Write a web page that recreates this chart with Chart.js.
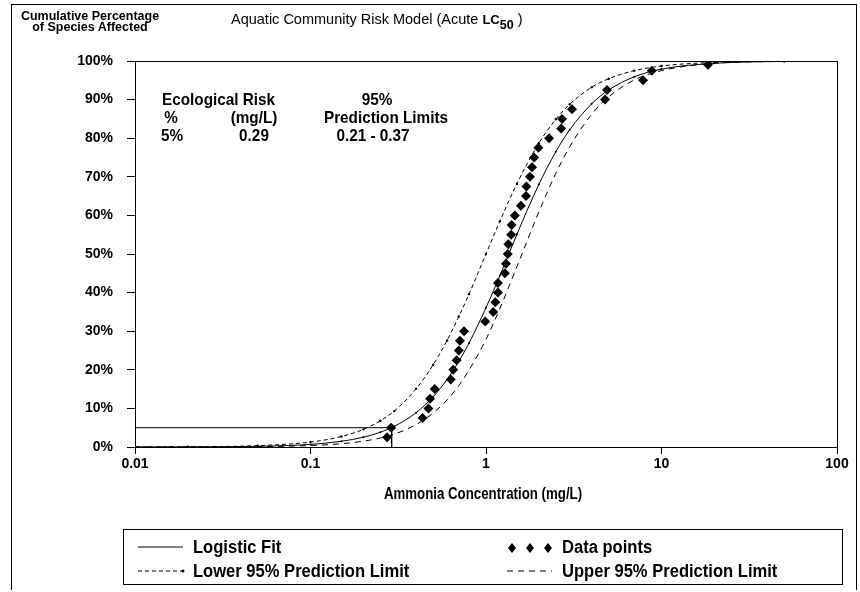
<!DOCTYPE html>
<html>
<head>
<meta charset="utf-8">
<script src="https://cdn.jsdelivr.net/npm/chart.js@4.4.1/dist/chart.umd.min.js"></script>
<style>
html,body{margin:0;padding:0;background:#fff;}
#wrap{position:relative;width:860px;height:592px;overflow:hidden;background:#fff;color:#000;
  font-family:'Liberation Sans',Arial,sans-serif;}
#c{position:absolute;left:0;top:0;}
.frame{position:absolute;left:11px;top:4px;width:846px;height:586px;border:1px solid #000;border-bottom:none;box-sizing:border-box;}
.t{position:absolute;white-space:nowrap;line-height:1;}
.n{transform-origin:0 50%;transform:scaleX(0.9);}
.cx{transform-origin:50% 50%;transform:translateX(-50%) scaleX(0.9);}
#title{left:231px;top:12px;font-size:14.5px;}
#title .lc{font-weight:bold;font-size:13px;}
#title sub{font-weight:bold;font-size:12.5px;vertical-align:-5px;line-height:0;}
#ytitle{left:90px;top:11px;font-weight:bold;font-size:12.5px;text-align:center;line-height:11px;transform:translateX(-50%);}
.ann{font-weight:bold;font-size:17px;}
#xtitle{left:483px;top:485px;font-weight:bold;font-size:17px;transform:translateX(-50%) scaleX(0.78);}
#legend{position:absolute;left:123px;top:529px;width:720px;height:56px;border:1px solid #000;box-sizing:border-box;}
.li{position:absolute;white-space:nowrap;line-height:1;}
.li svg{position:absolute;left:-56px;top:4px;}
.li span{display:inline-block;font-weight:bold;font-size:18px;transform-origin:0 50%;transform:scaleX(0.92);}
</style>
</head>
<body>
<div id="wrap">
  <div class="frame"></div>
  <canvas id="c" width="860" height="592"></canvas>
  <div id="title" class="t">Aquatic Community Risk Model (Acute <span class="lc">LC<sub>50</sub></span> )</div>
  <div id="ytitle" class="t">Cumulative Percentage<br>of Species Affected</div>

  <div class="t ann n" style="left:162px;top:91px;">Ecological Risk</div>
  <div class="t ann cx" style="left:377px;top:91px;">95%</div>
  <div class="t ann cx" style="left:171px;top:109px;">%</div>
  <div class="t ann cx" style="left:254px;top:109px;">(mg/L)</div>
  <div class="t ann cx" style="left:386px;top:109px;">Prediction Limits</div>
  <div class="t ann cx" style="left:172px;top:127px;">5%</div>
  <div class="t ann cx" style="left:254px;top:127px;">0.29</div>
  <div class="t ann cx" style="left:373px;top:127px;">0.21 - 0.37</div>

  <div id="xtitle" class="t">Ammonia Concentration (mg/L)</div>

  <div id="legend">
    <div class="li" style="left:69px;top:8px;">
      <svg width="48" height="10"><line x1="1" y1="5" x2="46" y2="5" stroke="#000" stroke-width="1"/></svg><span>Logistic Fit</span></div>
    <div class="li" style="left:438px;top:8px;">
      <svg width="48" height="12"><g fill="#000">
        <polygon points="6,1 10,6 6,11 2,6"/><polygon points="24,1 28,6 24,11 20,6"/><polygon points="42,1 46,6 42,11 38,6"/></g></svg><span>Data points</span></div>
    <div class="li" style="left:69px;top:32px;">
      <svg width="48" height="10"><line x1="1" y1="5" x2="46" y2="5" stroke="#000" stroke-width="1" stroke-dasharray="4,3"/><circle cx="46" cy="5" r="1.5" fill="#000"/></svg><span>Lower 95% Prediction Limit</span></div>
    <div class="li" style="left:438px;top:32px;">
      <svg width="48" height="10"><line x1="1" y1="5" x2="46" y2="5" stroke="#000" stroke-width="1" stroke-dasharray="6,5"/></svg><span>Upper 95% Prediction Limit</span></div>
  </div>
</div>
<script>
// ---- Data ----
const xTicks = [0.01, 0.1, 1, 10, 100];
const xTickLabels = ['0.01', '0.1', '1', '10', '100'];
const yTicks = [0, 10, 20, 30, 40, 50, 60, 70, 80, 90, 100];

// concentration grid at which the curves were read (mg/L)
const curveX = [0.01,0.02,0.05,0.1,0.15,0.2,0.25,0.3,0.4,0.5,0.6,0.7,0.8,1,1.2,1.5,2,2.5,3,4,5,7,10,20,50,100];
// logistic fit (% of species)
const fitY   = [0.01,0.03,0.18,0.68,1.48,2.53,3.82,5.33,8.9,13.0,17.5,22.2,26.9,36.1,44.4,55.1,68.0,76.5,82.2,88.9,92.5,95.9,97.9,99.4,99.9,100];
// lower 95% prediction limit (left curve)
const lowerY = [0.02,0.06,0.35,1.28,2.71,4.57,6.8,9.3,15.1,21.3,27.6,33.8,39.6,50,58.5,68.2,78.7,84.9,88.8,93.2,95.4,97.5,98.7,99.65,99.94,99.98];
// upper 95% prediction limit (right curve)
const upperY = [0.004,0.015,0.095,0.38,0.85,1.51,2.34,3.34,5.8,8.8,12.2,15.9,19.9,27.9,35.9,46.7,60.9,70.9,77.8,86.2,90.7,95.1,97.5,99.4,99.9,100];

// data points: concentration (mg/L) and cumulative %
const dataConc = [0.273,0.288,0.435,0.47,0.48,0.51,0.63,0.65,0.68,0.70,0.71,0.75,0.99,1.10,1.13,1.17,1.17,1.28,1.30,1.33,
                  1.34,1.39,1.40,1.46,1.58,1.69,1.70,1.78,1.83,1.88,1.99,2.29,2.68,2.71,3.09,4.77,4.89,7.85,8.8,18.4];
const dataPct  = [2.5,5,7.5,10,12.5,15,17.5,20,22.5,25,27.5,30,32.5,35,37.5,40,42.5,45,47.5,50,
                  52.5,55,57.5,60,62.5,65,67.5,70,72.5,75,77.5,80,82.5,85,87.5,90,92.5,95,97.5,99];

// ecological risk marker: 5% at 0.29 mg/L
const riskX = [0.01, 0.29, 0.29];
const riskY = [5, 5, 0];

const pts = (xs, ys) => xs.map((x, i) => ({x: x, y: ys[i]}));

const framePlugin = {
  id: 'frame',
  afterDatasetsDraw(chart) {
    const a = chart.chartArea, c = chart.ctx;
    c.save();
    c.strokeStyle = '#000'; c.lineWidth = 1;
    c.strokeRect(Math.round(a.left) + 0.5, Math.round(a.top) + 0.5, Math.round(a.right - a.left), Math.round(a.bottom - a.top));
    c.restore();
  }
};

const fontTick = {family: "'Liberation Sans',Arial,sans-serif", size: 14, weight: 'bold'};

new Chart(document.getElementById('c'), {
  type: 'scatter',
  data: {
    datasets: [
      {label: 'Risk', data: pts(riskX, riskY), showLine: true, borderColor: '#000', borderWidth: 1, pointRadius: 0, tension: 0},
      {label: 'Lower 95% Prediction Limit', data: pts(curveX, lowerY), showLine: true, borderColor: '#000', borderWidth: 1,
       borderDash: [4, 3], pointRadius: 1.2, pointBackgroundColor: '#000', pointBorderWidth: 0, cubicInterpolationMode: 'monotone'},
      {label: 'Upper 95% Prediction Limit', data: pts(curveX, upperY), showLine: true, borderColor: '#000', borderWidth: 1,
       borderDash: [6, 5], pointRadius: 0, cubicInterpolationMode: 'monotone'},
      {label: 'Logistic Fit', data: pts(curveX, fitY), showLine: true, borderColor: '#000', borderWidth: 1,
       pointRadius: 1, pointBackgroundColor: '#000', pointBorderWidth: 0, cubicInterpolationMode: 'monotone'},
      {label: 'Data points', data: pts(dataConc, dataPct), showLine: false, pointStyle: 'rectRot', pointRadius: 5,
       backgroundColor: '#000', borderColor: '#000', borderWidth: 0}
    ]
  },
  options: {
    responsive: false,
    animation: false,
    layout: {padding: {top: 61, right: 23, left: 0, bottom: 0}},
    plugins: {legend: {display: false}, tooltip: {enabled: false}},
    scales: {
      x: {
        type: 'logarithmic', min: 0.01, max: 100,
        afterBuildTicks: s => { s.ticks = xTicks.map(v => ({value: v})); },
        afterFit: s => { s.height = 145; },
        ticks: {callback: (v, i) => xTickLabels[i], color: '#000', font: fontTick, padding: 2, maxRotation: 0, autoSkip: false},
        grid: {drawOnChartArea: false, color: '#000', tickLength: 7},
        border: {color: '#000'}
      },
      y: {
        min: 0, max: 100,
        afterBuildTicks: s => { s.ticks = yTicks.map(v => ({value: v})); },
        afterFit: s => { s.width = 135; },
        ticks: {callback: v => v + '%', color: '#000', font: fontTick, padding: 14},
        grid: {drawOnChartArea: false, color: '#000', tickLength: 8},
        border: {color: '#000'}
      }
    }
  },
  plugins: [framePlugin]
});
</script>
</body>
</html>
